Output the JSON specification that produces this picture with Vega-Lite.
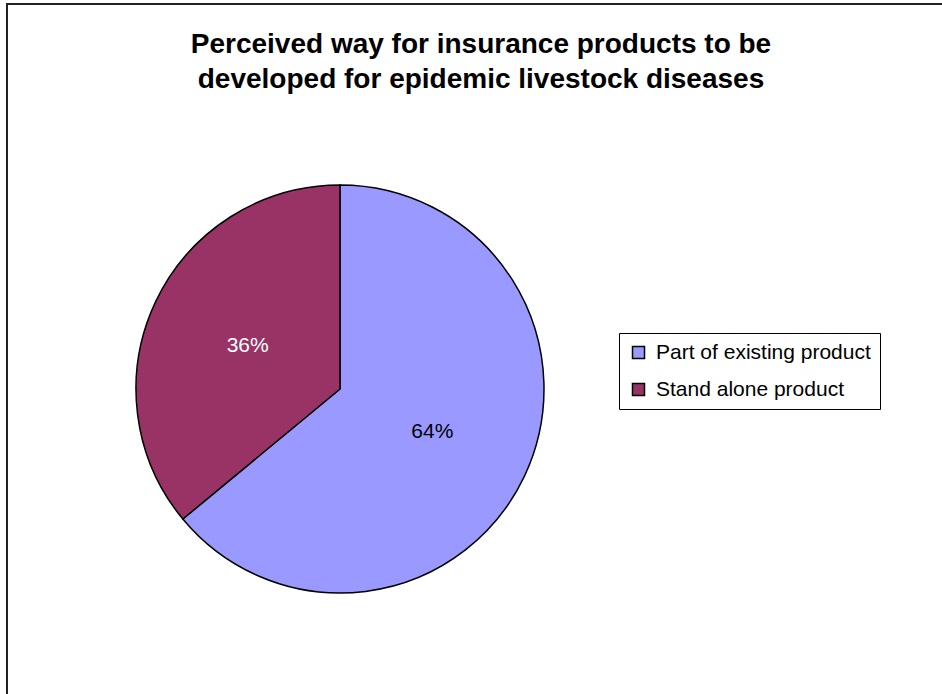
{
  "$schema": "https://vega.github.io/schema/vega-lite/v6.json",
  "width": 948,
  "height": 770,
  "autosize": {"type": "none"},
  "padding": {"left": 7, "top": 4, "right": 0, "bottom": 0},
  "background": "white",
  "view": {"stroke": "#222", "strokeWidth": 2, "fill": "white"},
  "config": {
    "font": "Liberation Sans"
  },
  "title": {
    "text": ["Perceived way for insurance products to be", "developed for epidemic livestock diseases"],
    "font": "Liberation Sans",
    "fontSize": 28,
    "fontWeight": "bold",
    "color": "black",
    "anchor": "middle",
    "frame": "group",
    "lineHeight": 35,
    "offset": -90
  },
  "data": {
    "values": [
      {"category": "Part of existing product", "share": 64, "label": "64%"},
      {"category": "Stand alone product", "share": 36, "label": "36%"}
    ]
  },
  "encoding": {
    "theta": {"field": "share", "type": "quantitative", "stack": true},
    "order": {"field": "category", "type": "nominal"}
  },
  "layer": [
    {
      "mark": {"type": "arc", "x": 333, "y": 385, "outerRadius": 204, "stroke": "black", "strokeWidth": 1.5},
      "encoding": {
        "color": {
          "field": "category",
          "type": "nominal",
          "scale": {"domain": ["Part of existing product", "Stand alone product"], "range": ["#9999FF", "#993366"]},
          "legend": {
            "title": null,
            "orient": "none",
            "legendX": 612,
            "legendY": 329,
            "padding": 9,
            "strokeColor": "black",
            "fillColor": "white",
            "symbolType": "square",
            "symbolSize": 144,
            "symbolStrokeColor": "black",
            "symbolStrokeWidth": 1.5,
            "labelFont": "Liberation Sans",
            "labelFontSize": 21,
            "labelColor": "black",
            "labelOffset": 7,
            "rowPadding": 15,
            "labelLimit": 400
          }
        }
      }
    },
    {
      "mark": {"type": "text", "x": 333, "y": 385, "radius": 102, "font": "Liberation Sans", "fontSize": 21},
      "encoding": {
        "text": {"field": "label", "type": "nominal"},
        "fill": {
          "condition": {"test": "datum.category === 'Stand alone product'", "value": "white"},
          "value": "black"
        }
      }
    }
  ]
}
